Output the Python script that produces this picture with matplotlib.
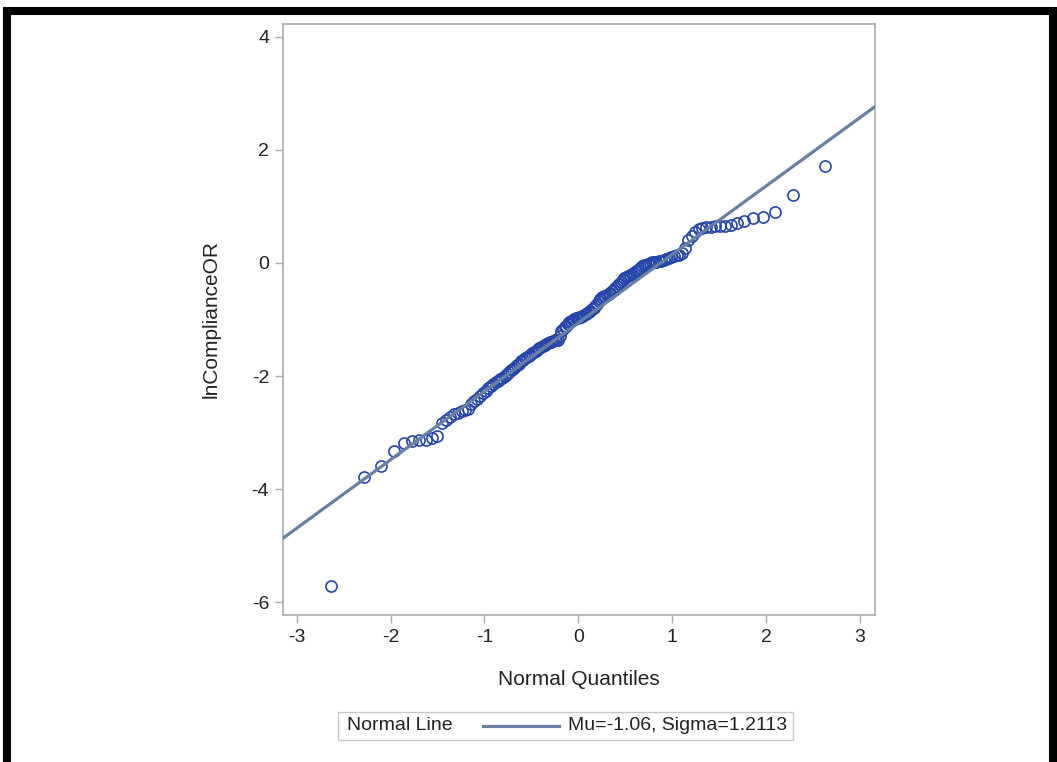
from statistics import NormalDist

import matplotlib
matplotlib.use("Agg")
import matplotlib.pyplot as plt
from matplotlib.lines import Line2D
from matplotlib.patches import Rectangle

# Sorted sample values (lnComplianceOR)
ln_compliance = [
    -5.72, -3.79, -3.59, -3.33, -3.19, -3.15, -3.14, -3.13, -3.10, -3.07,
    -2.84, -2.78, -2.73, -2.68, -2.65, -2.62, -2.60, -2.58, -2.50, -2.45,
    -2.40, -2.35, -2.30, -2.26, -2.22, -2.18, -2.14, -2.10, -2.08, -2.06,
    -2.03, -2.00, -1.97, -1.93, -1.90, -1.87, -1.84, -1.81, -1.78, -1.74,
    -1.71, -1.68, -1.66, -1.64, -1.62, -1.60, -1.57, -1.55, -1.53, -1.51,
    -1.49, -1.47, -1.45, -1.43, -1.41, -1.40, -1.39, -1.38, -1.37, -1.37,
    -1.36, -1.30, -1.20, -1.16, -1.13, -1.11, -1.08, -1.05, -1.03, -1.01,
    -0.99, -0.98, -0.97,
    -0.96, -0.95, -0.94, -0.92, -0.91, -0.89, -0.87, -0.85, -0.82, -0.79,
    -0.76, -0.72, -0.68, -0.64, -0.61, -0.59, -0.58, -0.57, -0.55, -0.53,
    -0.50, -0.47, -0.44, -0.41, -0.38, -0.34, -0.30, -0.27, -0.25, -0.23,
    -0.21, -0.19, -0.17, -0.15, -0.12, -0.09, -0.06, -0.04, -0.03, -0.02,
    0.00, 0.01, 0.01, 0.02, 0.03, 0.04, 0.06, 0.07, 0.09, 0.10,
    0.12, 0.14, 0.15, 0.17, 0.27, 0.40, 0.47, 0.55, 0.60, 0.62,
    0.63, 0.64, 0.65, 0.66, 0.66, 0.67, 0.71, 0.74, 0.79, 0.82,
    0.91, 1.20, 1.72,
]

# Normal line parameters
MU = -1.06
SIGMA = 1.2113

x_ticks = [-3, -2, -1, 0, 1, 2, 3]
y_ticks = [-6, -4, -2, 0, 2, 4]

# Blom normal scores for the ranks
n = len(ln_compliance)
quantiles = [NormalDist().inv_cdf((i + 1 - 0.375) / (n + 0.25)) for i in range(n)]

plt.rcParams["font.family"] = ["Liberation Sans", "DejaVu Sans"]
plt.rcParams["axes.unicode_minus"] = False

W, H = 1057, 762
fig = plt.figure(figsize=(W / 100, H / 100), dpi=100)
ax = fig.add_axes([283 / W, 1 - 615 / H, (875 - 283) / W, (615 - 24) / H])

marker_color = "#2446aa"
line_color = "#6880a4"
axis_color = "#a8acb0"
text_color = "#222222"

ax.plot(quantiles, ln_compliance, linestyle="none", marker="o", markersize=8,
        markerfacecolor="none", markeredgecolor=marker_color, markeredgewidth=1.2,
        zorder=2)
ax.axline((0, MU), slope=SIGMA, color=line_color, linewidth=2.3, zorder=3)

ax.set_xlim(-3.146, 3.16)
ax.set_ylim(-6.23, 4.23)
ax.set_xticks(x_ticks)
ax.set_yticks(y_ticks)

for spine in ax.spines.values():
    spine.set_color(axis_color)
    spine.set_linewidth(1.2)
ax.tick_params(direction="out", length=6, width=1.0, color=axis_color,
               labelsize=14, labelcolor=text_color, pad=4)

ax.set_xlabel("Normal Quantiles", fontsize=15, color=text_color)
ax.set_ylabel("lnComplianceOR", fontsize=15, color=text_color)
ax.xaxis.set_label_coords(0.5, -0.093)
ax.yaxis.set_label_coords(-0.105, 0.5)

# Legend box drawn in figure pixels
fig.patches.append(Rectangle((338 / W, 1 - 740 / H), (793 - 338) / W, 28 / H,
                             transform=fig.transFigure, facecolor="white",
                             edgecolor="#c8c8c8", linewidth=1.0))
fig.text(347 / W, 1 - 726 / H, "Normal Line", fontsize=14, color=text_color,
         va="center", ha="left")
fig.lines.append(Line2D([483 / W, 559 / W], [1 - 726 / H, 1 - 726 / H],
                        transform=fig.transFigure, color=line_color, linewidth=2.3))
fig.text(568 / W, 1 - 726 / H, f"Mu={MU}, Sigma={SIGMA}", fontsize=14,
         color=text_color, va="center", ha="left")

# Black frame around the picture
fig.patches.append(Rectangle((7 / W, -10 / H), (1053 - 7) / W, (751 + 10) / H,
                             transform=fig.transFigure, facecolor="none",
                             edgecolor="black", linewidth=5.8))

fig.savefig("out.png", dpi=100)
